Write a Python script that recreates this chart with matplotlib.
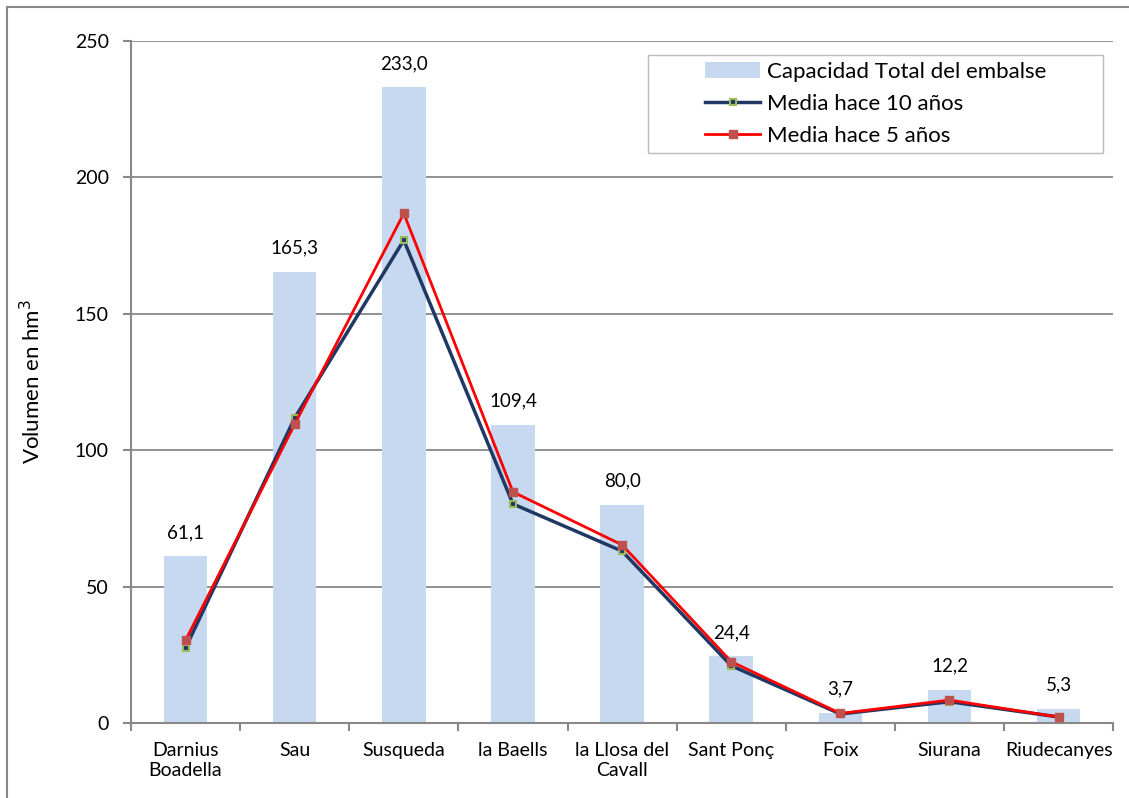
import matplotlib
matplotlib.use("Agg")
import matplotlib.pyplot as plt
from matplotlib.patches import Rectangle
import numpy as np

categories = ["Darnius\nBoadella", "Sau", "Susqueda", "la Baells", "la Llosa del\nCavall",
              "Sant Ponç", "Foix", "Siurana", "Riudecanyes"]
capacidad = [61.1, 165.3, 233.0, 109.4, 80.0, 24.4, 3.7, 12.2, 5.3]
media_10 = [27.5, 111.8, 177.0, 80.3, 63.0, 21.0, 3.3, 7.8, 2.2]
media_5 = [30.3, 109.5, 186.8, 84.7, 65.3, 22.5, 3.5, 8.4, 2.2]
cap_labels = ["61,1", "165,3", "233,0", "109,4", "80,0", "24,4", "3,7", "12,2", "5,3"]

plt.rcParams['font.family'] = ['Lato', 'DejaVu Sans']

fig = plt.figure(figsize=(11.29, 7.98), dpi=100)
ax = fig.add_axes([0.116, 0.094, 0.870, 0.8546])

x = np.arange(len(categories))
b = ax.bar(x, capacidad, width=0.4, color="#c6d9f0", zorder=2, label="Capacidad Total del embalse")
l10, = ax.plot(x, media_10, color="#1f3864", lw=2.5, marker="s", ms=5, mfc="#1f3864",
               mec="#9bbb59", mew=1.5, zorder=3, label="Media hace 10 años")
l5, = ax.plot(x, media_5, color="#ff0000", lw=2, marker="s", ms=6, mfc="#c0504d",
              mec="#c0504d", zorder=4, label="Media hace 5 años")

for xi, v, t in zip(x, capacidad, cap_labels):
    ax.annotate(t, (xi, v), xytext=(0, 11), textcoords="offset points",
                ha="center", va="bottom", fontsize=13.5)

ax.set_xlim(-0.5, len(categories) - 0.5)
ax.set_ylim(0, 250)
ax.set_yticks([0, 50, 100, 150, 200, 250])
ax.set_xticks(x)
ax.set_xticklabels(categories, fontsize=14)
ax.set_xticks(np.arange(-0.5, len(categories)), minor=True)
ax.tick_params(axis="x", which="major", length=0, pad=14)
ax.tick_params(axis="x", which="minor", length=6, color="#888888", width=1.5)
ax.tick_params(axis="y", length=6, color="#888888", width=1.5, labelsize=14, pad=10)
ax.yaxis.grid(True, color="#888888", lw=1.3, zorder=0)
ax.set_axisbelow(True)
for s in ["top", "right"]:
    ax.spines[s].set_visible(False)
for s in ["left", "bottom"]:
    ax.spines[s].set_color("#888888")
    ax.spines[s].set_linewidth(1.5)
ax.set_ylabel("Volumen en hm$^3$", fontsize=16, labelpad=22)

# legend frame drawn as box, content centered inside
bx0, bx1, by0, by1 = 0.5265, 0.9898, 0.8358, 0.9795
ax.add_patch(Rectangle((bx0, by0), bx1 - bx0, by1 - by0, transform=ax.transAxes,
                       facecolor="white", edgecolor="#bbbbbb", lw=1.0, zorder=9))
leg = ax.legend([b, l10, l5], [b.get_label(), l10.get_label(), l5.get_label()],
                loc="center", bbox_to_anchor=((bx0 + bx1) / 2, (by0 + by1) / 2), fontsize=16,
                frameon=False, borderpad=0, handlelength=2.45, handletextpad=0.3,
                labelspacing=0.55, borderaxespad=0)
leg.set_zorder(10)

fig.patches.append(Rectangle((7 / 1129, -0.01), 1.1, 1 - 7 / 798 + 0.01,
                             transform=fig.transFigure, fill=False,
                             edgecolor="#888888", lw=1.5))

fig.savefig("out.png", dpi=100)
